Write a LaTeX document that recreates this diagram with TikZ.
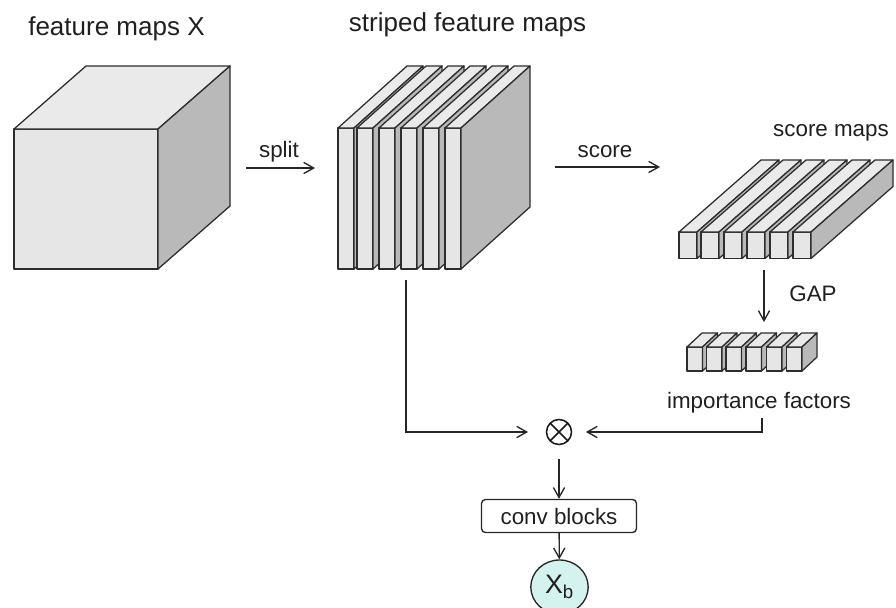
\documentclass[tikz,border=0pt]{standalone}
\usepackage{fontspec}
\setmainfont{Liberation Sans}
\usetikzlibrary{arrows.meta,shapes.geometric,positioning}
\definecolor{frontgray}{RGB}{230,230,230}
\definecolor{topgray}{RGB}{234,234,234}
\definecolor{sidegray}{RGB}{185,185,185}
\definecolor{edgegray}{RGB}{45,45,45}
\definecolor{outcyan}{RGB}{212,242,238}
\tikzstyle{face}  = [draw=edgegray, line width=0.9pt, line join=round]
\tikzstyle{flow}  = [line width=0.95pt, draw=black!85, -{Straight Barb[length=2.5mm,width=2.8mm]}]
\tikzstyle{title} = [font=\fontsize{18.5}{22}\selectfont, text=black!88, anchor=base, inner sep=0pt]
\tikzstyle{txt}   = [font=\fontsize{15.9}{19}\selectfont, text=black!88, anchor=base, inner sep=0pt]
% box in oblique view: front corner x, y, width, height, depth dx, dy
\newcommand{\slabbox}[6]{%
  \path[face, fill=frontgray] (#1,#2) rectangle ++(#3,#4);
  \path[face, fill=topgray] (#1,#2) -- ++(#5,-#6) -- ++(#3,0) -- ++(-#5,#6) -- cycle;
  \path[face, fill=sidegray] (#1+#3,#2) -- ++(#5,-#6) -- ++(0,#4) -- ++(-#5,#6) -- cycle;
}

\begin{document}
\begin{tikzpicture}[x=0.025cm, y=-0.025cm]
    \useasboundingbox (0,0) rectangle (896,607);

    % input cube and its stripes
    \slabbox{14}{129}{144}{140}{72}{63}
    \foreach \sx in {338,357,379,401,423,445} {\slabbox{\sx}{128}{16}{141}{69}{62}}
    \foreach \sx in {679,701,724,747,770,793} {\slabbox{\sx}{232}{18}{26.5}{82}{72}}
    \foreach \sx in {687,706.5,726,746,766.5,786.5} {\slabbox{\sx}{347}{15.5}{24}{15}{14}}

    \node[title] (xname) at (116.5,35) {feature maps X};
    \node[title] (sname) at (467.5,31.5) {striped feature maps};
    \node[txt] (splitlbl) at (279,157) {split};
    \node[txt] (scorelbl) at (605,157) {score};
    \node[txt] (mapslbl) at (831,136.5) {score maps};
    \node[txt] (gaplbl) at (813,301.5) {GAP};
    \node[txt] (implbl) at (759,408) {importance factors};

    \coordinate (splitA) at (246,168);
    \coordinate (splitB) at (315,168);
    \coordinate (scoreA) at (555,167);
    \coordinate (scoreB) at (660,167);
    \coordinate (gapA) at (764,270);
    \coordinate (gapB) at (764,322);
    \coordinate (stripeout) at (406,280);
    \coordinate (factout) at (762,418);

    \node[circle, draw=black!90, line width=1.1pt, minimum size=0.625cm, inner sep=0pt,
          path picture={\draw[line width=1.1pt]
              (path picture bounding box.north west) -- (path picture bounding box.south east)
              (path picture bounding box.north east) -- (path picture bounding box.south west);}]
          (mul) at (559,432) {};
    \node[draw=black!85, line width=0.95pt, rounded corners=1mm, minimum width=3.875cm,
          minimum height=0.825cm, inner sep=0pt, font=\fontsize{15.9}{19}\selectfont,
          text=black!88] (conv) at (559,516) {conv blocks};
    \node[ellipse, draw=black!85, line width=0.95pt, fill=outcyan, minimum width=1.435cm,
          minimum height=1.35cm, inner sep=0pt, font=\fontsize{19}{22}\selectfont,
          text=black!88] (xb) at (559.5,587) {X\textsubscript{b}};

    \draw[flow] (splitA) -- (splitB);
    \draw[flow] (scoreA) -- (scoreB);
    \draw[flow] (gapA) -- (gapB);
    \draw[flow, shorten >=0.44cm] (stripeout) |- (mul);
    \draw[flow, shorten >=0.34cm] (factout) |- (mul);
    \draw[flow, shorten <=0.34cm] (mul) -- (conv);
    \draw[flow] (conv) -- (xb);
\end{tikzpicture}
\end{document}
